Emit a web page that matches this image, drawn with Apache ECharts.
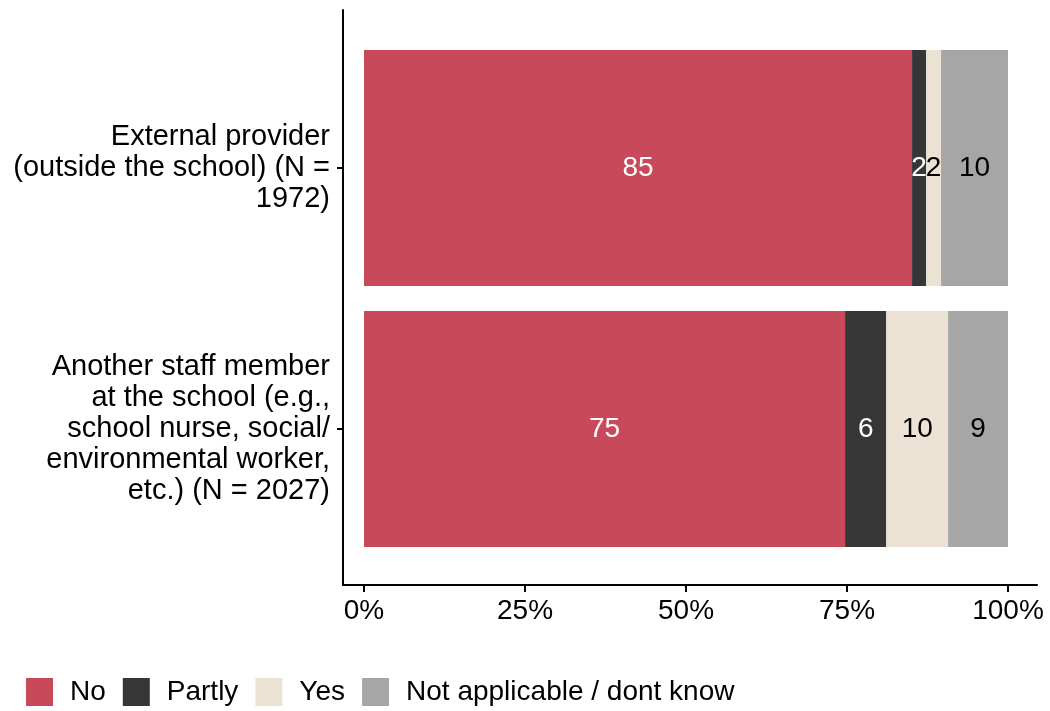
<!DOCTYPE html>
<html>
<head>
<meta charset="utf-8">
<script src="https://cdn.jsdelivr.net/npm/echarts@6/dist/echarts.min.js"></script>
<style>html,body{margin:0;padding:0;background:#fff}#c{width:1050px;height:711px}</style>
</head>
<body>
<div id="c"></div>
<script>
const categories = ["Another staff member\nat the school (e.g.,\nschool nurse, social/\nenvironmental worker,\netc.) (N = 2027)", "External provider\n(outside the school) (N =\n1972)"];
const seriesNames = ["No", "Partly", "Yes", "Not applicable / dont know"];
const noVals = [74.7, 85.1];
const partlyVals = [6.4, 2.2];
const yesVals = [9.6, 2.3];
const naVals = [9.3, 10.4];
const tickValues = [0, 25, 50, 75, 100];

const colors = ["#C84A5A", "#363636", "#ECE2D3", "#A6A6A6"];
const labelColors = ["#ffffff", "#ffffff", "#000000", "#000000"];
const font = "Liberation Sans, Arial, sans-serif";
const allVals = [noVals, partlyVals, yesVals, naVals];
const FS = 28;

const chart = echarts.init(document.getElementById('c'));
const xMin = -3.26, xMax = 104.5;
chart.setOption({
  animation: false,
  color: colors,
  textStyle: { fontFamily: font },
  legend: {
    left: 26, top: 678, padding: 0,
    itemWidth: 27, itemHeight: 28, itemGap: 17,
    icon: 'rect',
    data: seriesNames,
    textStyle: { fontSize: FS, color: '#000', fontFamily: font, padding: [0, 0, 0, 12] }
  },
  grid: [
    { left: 343, right: 13, top: 37.5, height: 522, containLabel: false },
    { left: 343, right: 13, top: 10, height: 575, containLabel: false }
  ],
  xAxis: [
    { gridIndex: 0, type: 'value', min: xMin, max: xMax, show: false },
    { gridIndex: 1, type: 'value', min: xMin, max: xMax,
      axisLine: { show: true, onZero: false, lineStyle: { color: '#000', width: 2 } },
      axisTick: { show: true, length: 7, lineStyle: { color: '#000', width: 2 }, customValues: tickValues },
      axisLabel: { customValues: tickValues, formatter: v => Math.round(v) + '%', fontSize: FS, color: '#000', fontFamily: font, margin: 12 },
      splitLine: { show: false } }
  ],
  yAxis: [
    { gridIndex: 0, type: 'category', data: categories,
      axisLine: { show: false, onZero: false },
      axisTick: { show: true, alignWithLabel: true, length: 6, lineStyle: { color: '#000', width: 2 } },
      axisLabel: { fontSize: 29, color: '#000', lineHeight: 31, align: 'right', margin: 13, fontFamily: font },
      splitLine: { show: false } },
    { gridIndex: 1, type: 'value', min: 0, max: 1,
      axisLine: { show: true, onZero: false, lineStyle: { color: '#000', width: 2 } },
      axisTick: { show: false }, axisLabel: { show: false }, splitLine: { show: false } }
  ],
  series: seriesNames.map((name, i) => ({
    name: name,
    type: 'bar',
    stack: 'total',
    xAxisIndex: 0, yAxisIndex: 0,
    barWidth: 236,
    data: allVals[i],
    itemStyle: { color: colors[i] },
    label: {
      show: true, position: 'inside',
      formatter: p => Math.round(p.value),
      color: labelColors[i], fontSize: FS, fontFamily: font
    }
  }))
});
</script>
</body>
</html>
